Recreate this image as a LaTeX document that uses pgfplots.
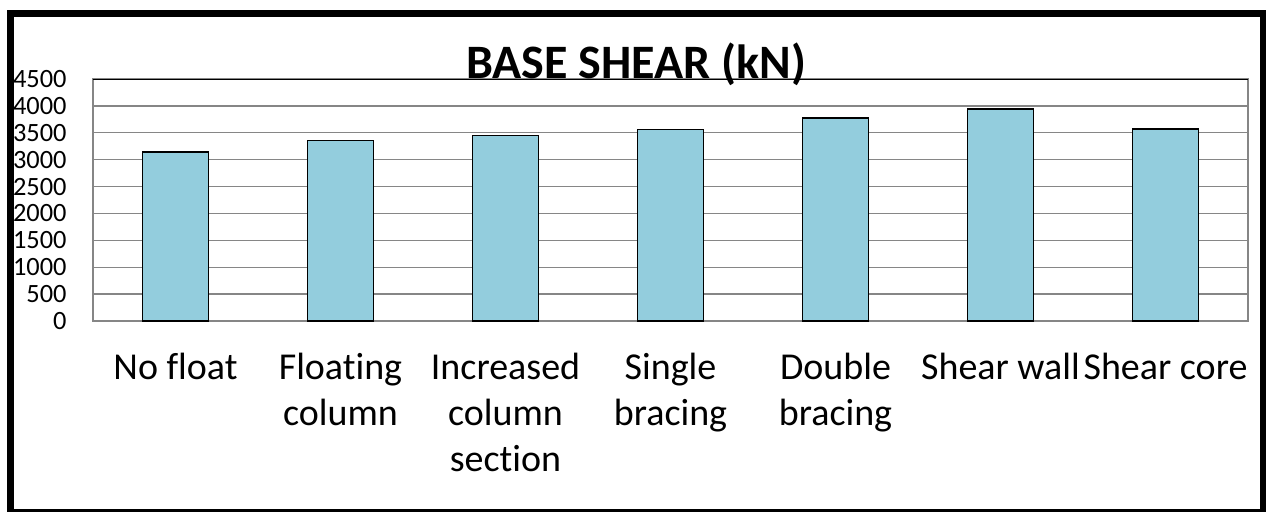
\documentclass[border=0pt]{standalone}
\usepackage{fontspec}
\setmainfont{Carlito}[Ligatures={NoCommon}]
\usepackage{pgfplots}
\pgfplotsset{compat=1.18}
\definecolor{barfill}{RGB}{147,205,221}
\definecolor{gridgray}{RGB}{134,134,134}
\begin{document}
\begin{tikzpicture}
\useasboundingbox (0,0) rectangle (633pt,255.5pt);
\begin{axis}[
 at={(46.5pt,95pt)}, anchor=south west,
 scale only axis, width=577.5pt, height=121pt,
 xmin=-0.5, xmax=6.5, ymin=0, ymax=4500,
 ytick={0,500,...,4500},
 xtick={0,...,6},
 xticklabels={{No float},{Floating\\column},{Increased\\column\\section},{Single\\bracing},{Double\\bracing},{Shear wall},{Shear core}},
 ymajorgrids, grid style={gridgray, line width=0.7pt},
 major tick length=0pt,
 axis line style={gridgray, line width=0.9pt},
 yticklabel style={font=\fontsize{13.2}{15}\selectfont, anchor=east, inner sep=0pt, xshift=-13pt},
 xticklabel style={font=\fontsize{19}{23}\selectfont, align=center, anchor=north, inner sep=0pt, yshift=-16pt},
 /pgf/number format/assume math mode=true,
 /pgf/number format/1000 sep={},
 ybar, bar width=33pt,
]
\addplot[fill=barfill, draw=black, line width=0.8pt] coordinates {(0,3145) (1,3355) (2,3450) (3,3560) (4,3770) (5,3945) (6,3575)};
\draw[black, line width=1pt] (rel axis cs:0,1) -- (rel axis cs:1,1);
\end{axis}
\node[anchor=base, font=\bfseries\fontsize{24}{28}\selectfont, inner sep=0pt] at (318pt,216.5pt) {BASE SHEAR (kN)};
\draw[line width=3.5pt] (5.25pt,-0.6pt) rectangle (631.75pt,249pt);
\end{tikzpicture}
\end{document}
